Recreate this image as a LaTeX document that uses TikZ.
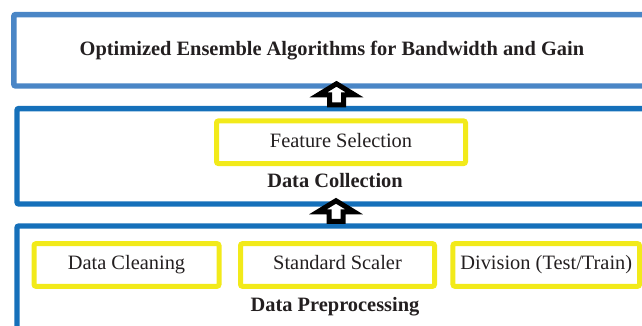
\documentclass[tikz,border=0pt]{standalone}
\usepackage{fontspec}
\setmainfont{Liberation Serif}
\usetikzlibrary{calc,positioning}
\definecolor{topblue}{RGB}{74,134,198}
\definecolor{boxblue}{RGB}{21,112,186}
\definecolor{boxyellow}{RGB}{242,234,26}
\definecolor{txt}{RGB}{35,31,32}

\begin{document}
\begin{tikzpicture}[x=0.75pt,y=-0.75pt,
  font=\fontsize{15.3}{18}\selectfont, text=txt,
  stage/.style={draw=boxblue, line width=4.1pt, rounded corners=1.5pt, inner sep=0pt},
  task/.style={draw=boxyellow, line width=3.75pt, rounded corners=1.5pt, inner sep=0pt, minimum height=32pt, text height=10.5pt, text depth=3.2pt},
  title/.style={font=\fontsize{15.3}{18}\selectfont\bfseries},
  blockarrow/.style={draw=black, fill=white, line width=3.75pt, line join=miter}]
\useasboundingbox (0,0) rectangle (642,325);

\node[stage, draw=topblue, minimum width=477.2pt, minimum height=53.6pt, title] (optim) at (331.9,50.25) {Optimized Ensemble Algorithms for Bandwidth and Gain};
\node[stage, minimum width=477pt, minimum height=71.6pt] (collect) at (335,156.25) {};
\node[stage, minimum width=477pt, minimum height=93pt] (prep) at (335,288) {};

\node[task, minimum width=186.75pt] (featsel) at (341,142.25) {Feature Selection};
\node[title] (collectlbl) at (335,180.5) {Data Collection};

\node[task, minimum width=138.75pt] (clean) at (126.5,265) {Data Cleaning};
\node[task, minimum width=145.5pt] (scaler) at (337.5,265) {Standard Scaler};
\node[task, minimum width=139.9pt] (divide) at (546.25,265) {Division (Test/Train)};
\node[title] (preplbl) at (335,307) {Data Preprocessing};

% hollow arrows between the stages
\draw[blockarrow] ($(collect.north)+(-5.5,-1)$) -- ++(0,-10) -- ++(-11,0) -- ++(18,-11) -- ++(18,11) -- ++(-11,0) -- ++(0,10) -- cycle;
\draw[blockarrow] ($(prep.north)+(-6,-2)$) -- ++(0,-9.5) -- ++(-11,0) -- ++(18,-11) -- ++(18,11) -- ++(-11,0) -- ++(0,9.5) -- cycle;
\end{tikzpicture}
\end{document}
